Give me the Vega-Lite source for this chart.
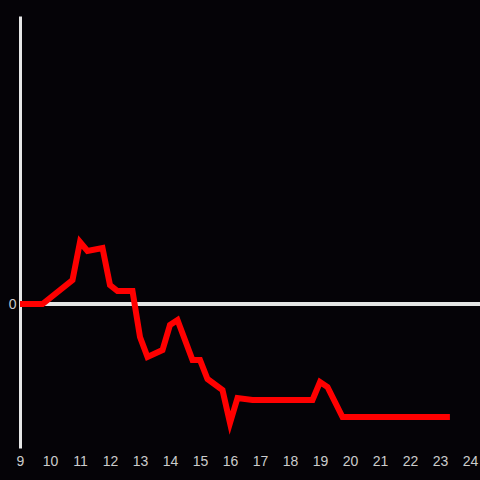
{
  "$schema": "https://vega.github.io/schema/vega-lite/v6.json",
  "width": 460,
  "height": 432,
  "autosize": {"type": "none"},
  "padding": {"left": 20, "top": 16, "right": 0, "bottom": 32},
  "background": "#050307",
  "config": {"view": {"stroke": null}, "axis": {"labelFont": "Liberation Sans", "labelFontSize": 14, "labelColor": "#cccccc"}},
  "data": {"values": [
    {"h": 9.0, "v": 0},
    {"h": 9.75, "v": 0},
    {"h": 10.75, "v": 24},
    {"h": 11.0, "v": 62},
    {"h": 11.25, "v": 53},
    {"h": 11.75, "v": 56},
    {"h": 12.0, "v": 19},
    {"h": 12.25, "v": 13},
    {"h": 12.75, "v": 13},
    {"h": 13.0, "v": -33},
    {"h": 13.25, "v": -53},
    {"h": 13.75, "v": -46},
    {"h": 14.0, "v": -21},
    {"h": 14.25, "v": -16},
    {"h": 14.75, "v": -56},
    {"h": 15.0, "v": -56},
    {"h": 15.25, "v": -75},
    {"h": 15.75, "v": -86},
    {"h": 16.0, "v": -119},
    {"h": 16.25, "v": -94},
    {"h": 16.75, "v": -96},
    {"h": 18.75, "v": -96},
    {"h": 19.0, "v": -78},
    {"h": 19.25, "v": -83},
    {"h": 19.75, "v": -113},
    {"h": 23.33, "v": -113}
  ]},
  "layer": [
    {
      "mark": {"type": "rule", "color": "#e6e6e6", "strokeWidth": 3},
      "encoding": {"y": {"datum": 0, "type": "quantitative"}}
    },
    {
      "mark": {"type": "line", "color": "#ff0000", "strokeWidth": 6},
      "encoding": {
        "x": {"field": "h", "type": "quantitative", "scale": {"domain": [9, 24.3333], "nice": false, "zero": false},
              "axis": {"title": null, "domain": false, "ticks": false, "grid": false, "values": [9,10,11,12,13,14,15,16,17,18,19,20,21,22,23,24], "labelPadding": 6, "labelFlush": false}},
        "y": {"field": "v", "type": "quantitative", "scale": {"domain": [-144, 288], "nice": false},
              "axis": {"title": null, "domainColor": "#e6e6e6", "domainWidth": 3, "ticks": false, "grid": false, "values": [0], "labelPadding": 4}}
      }
    }
  ]
}
